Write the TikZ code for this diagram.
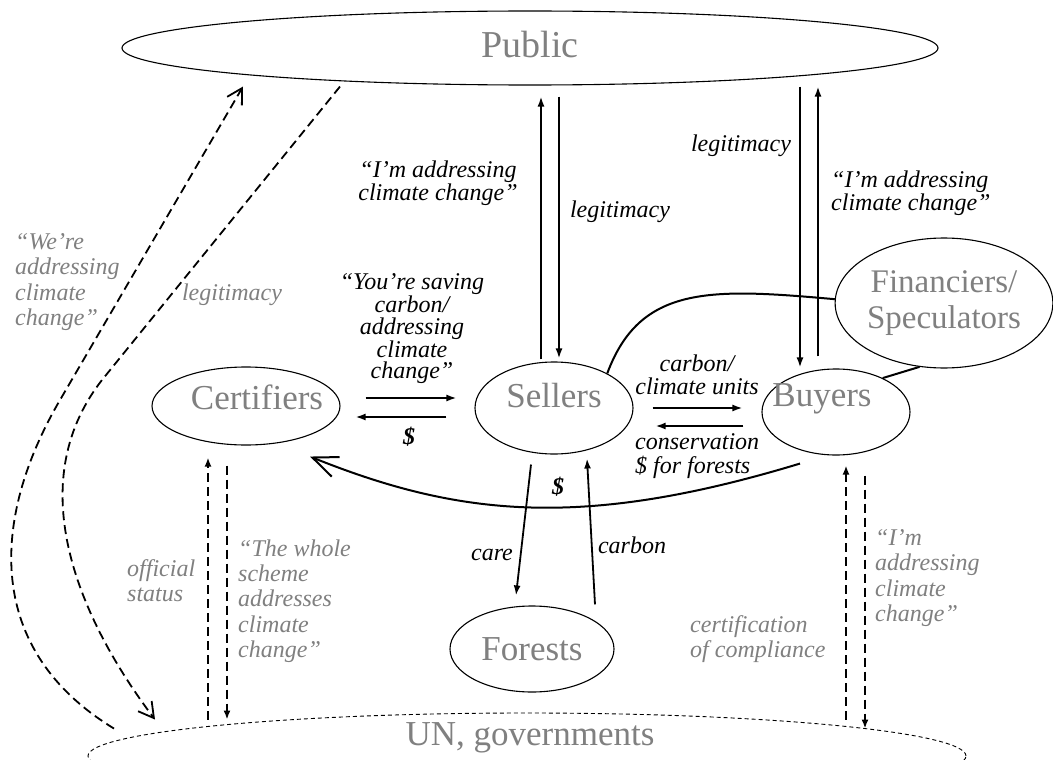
\documentclass[tikz,border=0pt]{standalone}
\usepackage{fontspec}
\setmainfont{Liberation Serif}
\usetikzlibrary{shapes.geometric,arrows.meta}
\definecolor{tgray}{RGB}{128,128,128}
% zero-width text box: #1 = 2*horizontal offset, #2 = lift
\newcommand{\ctr}[3]{\makebox[0pt]{\hspace*{#1}\raisebox{#2}[\height][\depth]{#3}}}
\begin{document}
\begin{tikzpicture}[x=1pt,y=-1pt,
  actor/.style={ellipse, draw, line width=1.1pt, inner sep=0pt, text=tgray, font=\fontsize{35}{36}\selectfont},
  lab/.style={inner sep=0pt, font=\fontsize{24}{23.5}\selectfont\itshape},
  glab/.style={inner sep=0pt, text=tgray, font=\fontsize{24}{25.3}\selectfont\itshape},
  dol/.style={inner sep=0pt, font=\fontsize{24}{24}\selectfont\bfseries\itshape},
  arr/.style={line width=1.8pt, -{Latex[length=10pt,width=7pt]}},
  darr/.style={line width=1.8pt, dash pattern=on 9pt off 5pt, -{Latex[length=9pt,width=7pt]}},
  conn/.style={line width=2pt},
  bigbarb/.style={line width=2pt, -{Straight Barb[length=25pt,width=21pt]}},
  dcurve/.style={line width=1.8pt, dash pattern=on 9pt off 5pt, -{Straight Barb[length=15pt,width=17pt]}},
]
\useasboundingbox (0,0) rectangle (1053,760);
\clip (0,0) rectangle (1053,760);
\fill[white] (0,0) rectangle (1053,760);

% actors
\node[actor, minimum width=816pt, minimum height=74pt, font=\fontsize{38}{40}\selectfont] (public) at (530,48) {\ctr{0pt}{3.5pt}{Public}};
\node[actor, minimum width=188pt, minimum height=78pt] (cert) at (246,406) {\ctr{22pt}{9pt}{Certifiers}};
\node[actor, minimum width=158pt, minimum height=92pt] (sellers) at (554,408) {\ctr{0pt}{12pt}{Sellers}};
\node[actor, minimum width=148pt, minimum height=86pt] (buyers) at (836,412) {\ctr{-28pt}{13pt}{Buyers}};
\node[actor, minimum width=216pt, minimum height=130pt, align=center, font=\fontsize{33}{36}\selectfont] (fin) at (944,303) {Financiers/\\Speculators};
\node[actor, minimum width=164pt, minimum height=86pt] (forests) at (532,649) {\ctr{0pt}{0pt}{Forests}};
\node[actor, dash pattern=on 4pt off 3pt, line width=0.9pt, minimum width=878pt, minimum height=86pt] (un) at (527,756) {\ctr{6pt}{18pt}{UN, governments}};

% Public <-> Sellers
\draw[arr] ([xshift=-13pt,yshift=2pt]sellers.north) -- ([xshift=11pt,yshift=-11pt]public.south);
\draw[arr] ([xshift=29pt,yshift=-11pt]public.south) -- ([xshift=5pt,yshift=3pt]sellers.north);
% Public <-> Buyers
\draw[arr] ([xshift=270pt,yshift=-1pt]public.south) -- ([xshift=-36pt,yshift=1pt]buyers.north);
\draw[arr] ([xshift=-18pt,yshift=12pt]buyers.north) -- ([xshift=288pt,yshift=-1pt]public.south);
% Certifiers <-> Sellers
\draw[arr] ([xshift=25pt,yshift=8pt]cert.east) -- ([xshift=-18pt,yshift=10pt]sellers.west);
\draw[arr] ([xshift=-28pt,yshift=-9pt]sellers.west) -- ([xshift=15pt,yshift=-11pt]cert.east);
% Sellers <-> Buyers
\draw[arr] ([xshift=19pt]sellers.east) -- ([xshift=-19pt,yshift=4pt]buyers.west);
\draw[arr] ([xshift=-18pt,yshift=-14pt]buyers.west) -- ([xshift=22pt,yshift=-18pt]sellers.east);
% Sellers <-> Forests
\draw[arr] ([xshift=-23pt,yshift=-10pt]sellers.south) -- ([xshift=-16pt,yshift=10pt]forests.north);
\draw[arr] ([xshift=63pt,yshift=1pt]forests.north) -- ([xshift=33pt,yshift=-4pt]sellers.south);
% Buyers -> Certifiers ($)
\draw[bigbarb] ([xshift=-36pt,yshift=-8pt]buyers.south) .. controls (581,530) and (458,516) .. ([xshift=64pt,yshift=-11pt]cert.south);
% Financiers links
\draw[conn] (sellers.33) .. controls (640,285) and (710,288) .. (fin.178);
\draw[conn] (buyers.36) -- (fin.249);
% Certifiers <-> UN
\draw[darr] ([xshift=-319pt,yshift=-7pt]un.north) -- ([xshift=-38pt,yshift=-12pt]cert.south);
\draw[darr] ([xshift=-19pt,yshift=-20pt]cert.south) -- ([xshift=-300pt,yshift=-7pt]un.north);
% Buyers <-> UN
\draw[darr] ([xshift=319pt,yshift=-7pt]un.north) -- ([xshift=10pt,yshift=-10pt]buyers.south);
\draw[darr] ([xshift=29pt,yshift=-20pt]buyers.south) -- ([xshift=338pt,yshift=-16pt]un.north);
% UN <-> Public long curves
\draw[dcurve] ([xshift=-413pt,yshift=-16pt]un.north) .. controls (-15,650) and (-10,520) .. (60,400) -- ([xshift=-287pt,yshift=-1pt]public.south);
\draw[dcurve] ([xshift=-190pt,yshift=-1pt]public.south) -- (102,380) .. controls (20,485) and (80,620) .. ([xshift=-372pt,yshift=-7pt]un.north);

% labels
\node[lab, align=center] (l1) at (438,183) {“I’m addressing\\climate change”};
\node[lab] (l2) at (620,212) {legitimacy};
\node[lab] (l3) at (741,146) {legitimacy};
\node[lab, align=left, anchor=west] (l4) at (831,193) {“I’m addressing\\climate change”};
\node[glab, align=left, anchor=west] (l5) at (15,282) {“We’re\\addressing\\climate\\change”};
\node[glab] (l6) at (232,295) {legitimacy};
\node[lab, align=center, font=\fontsize{24}{21.7}\selectfont\itshape] (l7) at (412,329) {“You’re saving\\carbon/\\addressing\\climate\\change”};
\node[dol] (d1) at (409,437) {\$};
\node[lab, align=center] (l8) at (697,375) {carbon/\\climate units};
\node[lab, align=left, anchor=west] (l9) at (635,456) {conservation\\\$ for forests};
\node[dol] (d2) at (558,487) {\$};
\node[lab] (l10) at (492,555) {care};
\node[lab] (l11) at (632,545) {carbon};
\node[glab, align=left, anchor=west] (l12) at (127,581) {official\\status};
\node[glab, align=left, anchor=west] (l13) at (238,601) {“The whole\\scheme\\addresses\\climate\\change”};
\node[glab, align=left, anchor=west] (l14) at (690,639) {certification\\of compliance};
\node[glab, align=left, anchor=west] (l15) at (875,578) {“I’m\\addressing\\climate\\change”};
\end{tikzpicture}
\end{document}
